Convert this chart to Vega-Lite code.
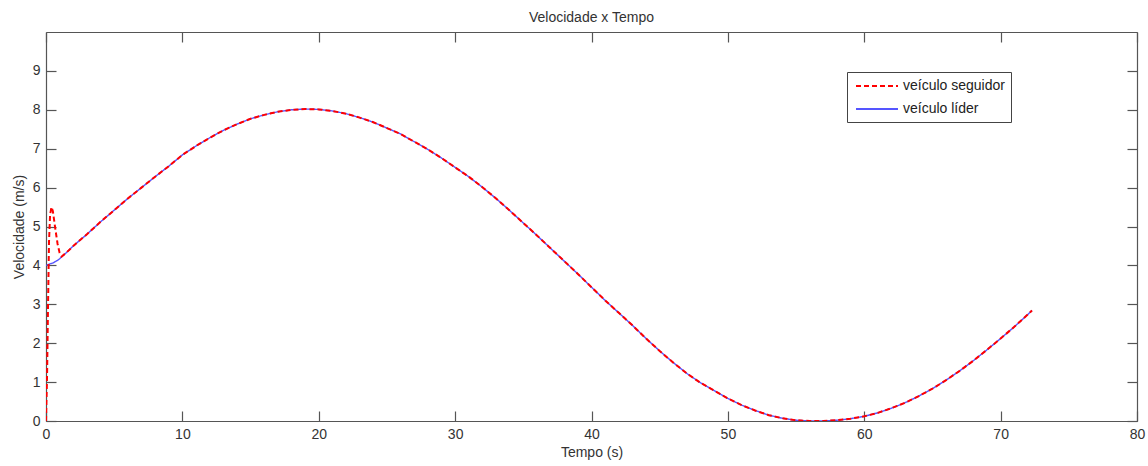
{
  "$schema": "https://vega.github.io/schema/vega-lite/v6.json",
  "width": 1091,
  "height": 389,
  "autosize": {"type": "none"},
  "padding": {"left": 46, "top": 32, "right": 11, "bottom": 45},
  "background": "white",
  "title": {"text": "Velocidade x Tempo", "fontSize": 14, "fontWeight": "normal", "color": "#333333", "font": "Liberation Sans", "offset": 6, "anchor": "middle"},
  "config": {
    "view": {"stroke": null},
    "axis": {
      "grid": false,
      "domainColor": "#555555",
      "domainWidth": 1.2,
      "tickColor": "#555555",
      "tickWidth": 1.2,
      "tickSize": -10,
      "labelFont": "Liberation Sans",
      "labelFontSize": 14,
      "labelColor": "#333333",
      "titleFont": "Liberation Sans",
      "titleFontSize": 14,
      "titleFontWeight": "normal",
      "titleColor": "#333333",
      "labelFlush": false,
      "labelOverlap": false
    }
  },
  "data": {
    "values": [
      {"t": 0, "veículo líder": 4.00, "veículo seguidor": 0},
      {"t": 0.08, "veículo líder": 4.01, "veículo seguidor": 1.2},
      {"t": 0.15, "veículo líder": 4.02, "veículo seguidor": 3.0},
      {"t": 0.22, "veículo líder": 4.03, "veículo seguidor": 4.6},
      {"t": 0.3, "veículo líder": 4.04, "veículo seguidor": 5.3},
      {"t": 0.4, "veículo líder": 4.05, "veículo seguidor": 5.5},
      {"t": 0.5, "veículo líder": 4.06, "veículo seguidor": 5.4},
      {"t": 0.6, "veículo líder": 4.08, "veículo seguidor": 5.15},
      {"t": 0.7, "veículo líder": 4.10, "veículo seguidor": 4.9},
      {"t": 0.85, "veículo líder": 4.13, "veículo seguidor": 4.55},
      {"t": 1.0, "veículo líder": 4.17, "veículo seguidor": 4.32},
      {"t": 1.15, "veículo líder": 4.22, "veículo seguidor": 4.23},
      {"t": 1.5, "veículo líder": 4.33, "veículo seguidor": 4.33},
      {"t": 2, "veículo líder": 4.50, "veículo seguidor": 4.50},
      {"t": 3, "veículo líder": 4.80, "veículo seguidor": 4.80},
      {"t": 4, "veículo líder": 5.12, "veículo seguidor": 5.12},
      {"t": 5, "veículo líder": 5.42, "veículo seguidor": 5.42},
      {"t": 6, "veículo líder": 5.72, "veículo seguidor": 5.72},
      {"t": 7, "veículo líder": 6.00, "veículo seguidor": 6.00},
      {"t": 8, "veículo líder": 6.28, "veículo seguidor": 6.28},
      {"t": 9, "veículo líder": 6.55, "veículo seguidor": 6.55},
      {"t": 10, "veículo líder": 6.84, "veículo seguidor": 6.84},
      {"t": 11, "veículo líder": 7.07, "veículo seguidor": 7.07},
      {"t": 12, "veículo líder": 7.28, "veículo seguidor": 7.28},
      {"t": 13, "veículo líder": 7.47, "veículo seguidor": 7.47},
      {"t": 14, "veículo líder": 7.63, "veículo seguidor": 7.63},
      {"t": 15, "veículo líder": 7.77, "veículo seguidor": 7.77},
      {"t": 16, "veículo líder": 7.87, "veículo seguidor": 7.87},
      {"t": 17, "veículo líder": 7.95, "veículo seguidor": 7.95},
      {"t": 18, "veículo líder": 8.00, "veículo seguidor": 8.00},
      {"t": 19, "veículo líder": 8.02, "veículo seguidor": 8.02},
      {"t": 20, "veículo líder": 8.01, "veículo seguidor": 8.01},
      {"t": 21, "veículo líder": 7.97, "veículo seguidor": 7.97},
      {"t": 22, "veículo líder": 7.90, "veículo seguidor": 7.90},
      {"t": 23, "veículo líder": 7.80, "veículo seguidor": 7.80},
      {"t": 24, "veículo líder": 7.68, "veículo seguidor": 7.68},
      {"t": 25, "veículo líder": 7.53, "veículo seguidor": 7.53},
      {"t": 26, "veículo líder": 7.38, "veículo seguidor": 7.38},
      {"t": 27, "veículo líder": 7.18, "veículo seguidor": 7.18},
      {"t": 28, "veículo líder": 6.98, "veículo seguidor": 6.98},
      {"t": 29, "veículo líder": 6.76, "veículo seguidor": 6.76},
      {"t": 30, "veículo líder": 6.52, "veículo seguidor": 6.52},
      {"t": 31, "veículo líder": 6.28, "veículo seguidor": 6.28},
      {"t": 32, "veículo líder": 6.01, "veículo seguidor": 6.01},
      {"t": 33, "veículo líder": 5.72, "veículo seguidor": 5.72},
      {"t": 34, "veículo líder": 5.41, "veículo seguidor": 5.41},
      {"t": 35, "veículo líder": 5.09, "veículo seguidor": 5.09},
      {"t": 36, "veículo líder": 4.77, "veículo seguidor": 4.77},
      {"t": 37, "veículo líder": 4.44, "veículo seguidor": 4.44},
      {"t": 38, "veículo líder": 4.11, "veículo seguidor": 4.11},
      {"t": 39, "veículo líder": 3.78, "veículo seguidor": 3.78},
      {"t": 40, "veículo líder": 3.44, "veículo seguidor": 3.44},
      {"t": 41, "veículo líder": 3.10, "veículo seguidor": 3.10},
      {"t": 42, "veículo líder": 2.78, "veículo seguidor": 2.78},
      {"t": 43, "veículo líder": 2.46, "veículo seguidor": 2.46},
      {"t": 44, "veículo líder": 2.12, "veículo seguidor": 2.12},
      {"t": 45, "veículo líder": 1.80, "veículo seguidor": 1.80},
      {"t": 46, "veículo líder": 1.50, "veículo seguidor": 1.50},
      {"t": 47, "veículo líder": 1.22, "veículo seguidor": 1.22},
      {"t": 48, "veículo líder": 0.98, "veículo seguidor": 0.98},
      {"t": 49, "veículo líder": 0.78, "veículo seguidor": 0.78},
      {"t": 50, "veículo líder": 0.58, "veículo seguidor": 0.58},
      {"t": 51, "veículo líder": 0.41, "veículo seguidor": 0.41},
      {"t": 52, "veículo líder": 0.27, "veículo seguidor": 0.27},
      {"t": 53, "veículo líder": 0.15, "veículo seguidor": 0.15},
      {"t": 54, "veículo líder": 0.07, "veículo seguidor": 0.07},
      {"t": 55, "veículo líder": 0.02, "veículo seguidor": 0.02},
      {"t": 56, "veículo líder": 0.00, "veículo seguidor": 0.00},
      {"t": 57, "veículo líder": 0.00, "veículo seguidor": 0.00},
      {"t": 58, "veículo líder": 0.02, "veículo seguidor": 0.02},
      {"t": 59, "veículo líder": 0.06, "veículo seguidor": 0.06},
      {"t": 60, "veículo líder": 0.12, "veículo seguidor": 0.12},
      {"t": 61, "veículo líder": 0.21, "veículo seguidor": 0.21},
      {"t": 62, "veículo líder": 0.33, "veículo seguidor": 0.33},
      {"t": 63, "veículo líder": 0.47, "veículo seguidor": 0.47},
      {"t": 64, "veículo líder": 0.64, "veículo seguidor": 0.64},
      {"t": 65, "veículo líder": 0.83, "veículo seguidor": 0.83},
      {"t": 66, "veículo líder": 1.05, "veículo seguidor": 1.05},
      {"t": 67, "veículo líder": 1.29, "veículo seguidor": 1.29},
      {"t": 68, "veículo líder": 1.55, "veículo seguidor": 1.55},
      {"t": 69, "veículo líder": 1.83, "veículo seguidor": 1.83},
      {"t": 70, "veículo líder": 2.12, "veículo seguidor": 2.12},
      {"t": 71, "veículo líder": 2.42, "veículo seguidor": 2.42},
      {"t": 72, "veículo líder": 2.74, "veículo seguidor": 2.74},
      {"t": 72.3, "veículo líder": 2.84, "veículo seguidor": 2.84}
    ]
  },
  "transform": [{"fold": ["veículo seguidor", "veículo líder"], "as": ["serie", "v"]}],
  "encoding": {
    "x": {"field": "t", "type": "quantitative", "scale": {"domain": [0, 80], "nice": false, "zero": false},
      "axis": {"orient": "bottom", "values": [0, 10, 20, 30, 40, 50, 60, 70, 80], "title": "Tempo (s)", "labelPadding": 16, "titlePadding": 4, "format": "d"}},
    "y": {"field": "v", "type": "quantitative", "scale": {"domain": [0, 10], "nice": false},
      "axis": {"orient": "left", "values": [0, 1, 2, 3, 4, 5, 6, 7, 8, 9], "title": "Velocidade (m/s)", "labelPadding": 16, "titlePadding": 6, "format": "d"}},
    "color": {"field": "serie", "type": "nominal",
      "scale": {"domain": ["veículo seguidor", "veículo líder"], "range": ["#ff0000", "#5555ff"]},
      "legend": {"orient": "none", "legendX": 801, "legendY": 40, "title": null, "fillColor": "white", "strokeColor": "#444444", "padding": 6, "symbolType": "M-3,0H3", "symbolSize": 196, "symbolStrokeWidth": 1.8, "symbolOffset": 16, "labelFont": "Liberation Sans", "labelFontSize": 14, "labelColor": "#222222", "rowPadding": 8, "labelOffset": 18}},
    "strokeDash": {"field": "serie", "type": "nominal",
      "scale": {"domain": ["veículo seguidor", "veículo líder"], "range": [[5, 3], [1, 0]]},
      "legend": {"orient": "none", "legendX": 801, "legendY": 40, "title": null, "fillColor": "white", "strokeColor": "#444444", "padding": 6, "symbolType": "M-3,0H3", "symbolSize": 196, "symbolStrokeWidth": 1.8, "symbolOffset": 16, "labelFont": "Liberation Sans", "labelFontSize": 14, "labelColor": "#222222", "rowPadding": 8, "labelOffset": 18}}
  },
  "layer": [
    {
      "transform": [{"filter": "datum.serie === 'veículo líder'"}],
      "mark": {"type": "line", "strokeWidth": 1.4, "clip": true}
    },
    {
      "transform": [{"filter": "datum.serie === 'veículo seguidor'"}],
      "mark": {"type": "line", "strokeWidth": 2, "clip": true},
      "encoding": {
        "x": {"field": "t", "type": "quantitative", "scale": {"domain": [0, 80], "nice": false, "zero": false},
          "axis": {"orient": "top", "values": [0, 10, 20, 30, 40, 50, 60, 70, 80], "title": null, "labels": false}},
        "y": {"field": "v", "type": "quantitative", "scale": {"domain": [0, 10], "nice": false},
          "axis": {"orient": "right", "values": [0, 1, 2, 3, 4, 5, 6, 7, 8, 9], "title": null, "labels": false}}
      }
    }
  ],
  "resolve": {"axis": {"x": "independent", "y": "independent"}}
}
